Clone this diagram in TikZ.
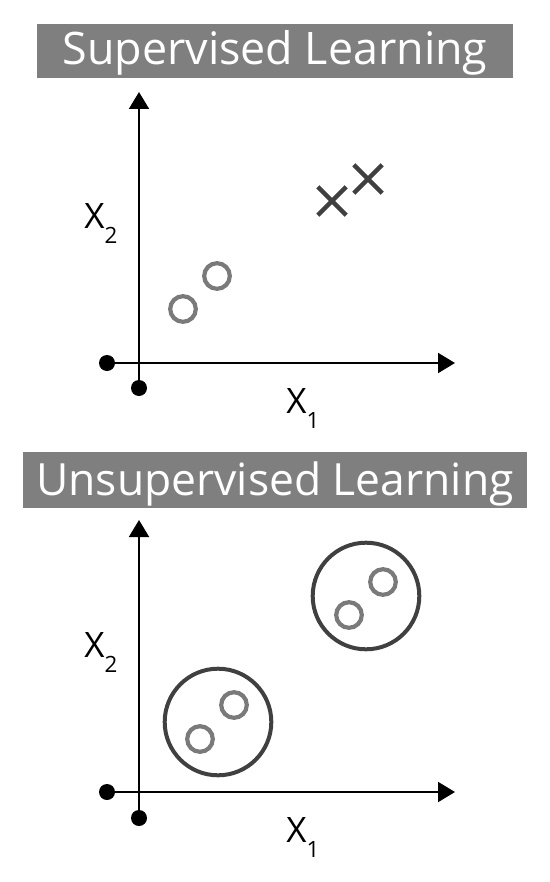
\documentclass[tikz,border=0pt]{standalone}
\usepackage{fontspec}
\setmainfont{Open Sans}
\usetikzlibrary{arrows.meta,shapes.misc,positioning}
\definecolor{bargray}{HTML}{7F7F7F}
\definecolor{ptgray}{HTML}{7A7A7A}
\definecolor{darkgray}{HTML}{404040}
\newcommand{\subfont}{\fontsize{11.2}{13}\selectfont}
\tikzstyle{title} = [rectangle, fill=bargray, text=white, inner sep=0pt, text depth=3pt]
\tikzstyle{axis} = [draw, line width=1pt, -{Triangle[length=8.5pt,width=10pt]}]
\tikzstyle{dot} = [circle, fill=black, inner sep=0pt, minimum size=8pt]
\tikzstyle{point} = [circle, draw=ptgray, line width=2.1pt, inner sep=0pt, minimum size=12.8pt]
\tikzstyle{cross} = [cross out, draw=darkgray, line width=2.2pt, inner sep=0pt, minimum size=12pt]
\tikzstyle{cluster} = [circle, draw=darkgray, line width=2pt, inner sep=0pt, minimum size=53.3pt]
\tikzstyle{axislabel} = [anchor=base west, inner sep=0pt, font=\fontsize{17.5}{20}\selectfont]

\begin{document}
\begin{tikzpicture}[x=0.5pt, y=-0.5pt]
						\useasboundingbox (0,0) rectangle (550,882);
						
						% Supervised
						\node [title, minimum width=238pt, minimum height=27pt, text height=17pt, font=\fontsize{22.4}{26}\selectfont] (suptitle) at (275,51) {Supervised Learning};
						\node [dot] (supx0) at (107,363) {};
						\node [dot] (supy0) at (139,388) {};
						\coordinate (supx) at (455,363);
						\coordinate (supy) at (139,92);
						\path [axis] (supx0) -- (supx);
						\path [axis] (supy0) -- (supy);
						\node [axislabel] (supxlab) at (286,413) {X\raisebox{-7.5pt}{\subfont 1}};
						\node [axislabel] (supylab) at (84,228) {X\raisebox{-7.5pt}{\subfont 2}};
						\node [point] (supa) at (183,309) {};
						\node [point] (supb) at (217,276) {};
						\node [cross] (supc) at (332,201) {};
						\node [cross] (supd) at (368,179) {};
						
						% Unsupervised
						\node [title, minimum width=252pt, minimum height=28pt, text height=18pt, font=\fontsize{22.2}{26}\selectfont] (unstitle) at (275,480) {Unsupervised Learning};
						\node [dot] (unsx0) at (107,792) {};
						\node [dot] (unsy0) at (139,818) {};
						\coordinate (unsx) at (455,792);
						\coordinate (unsy) at (139,520);
						\path [axis] (unsx0) -- (unsx);
						\path [axis] (unsy0) -- (unsy);
						\node [axislabel] (unsxlab) at (286,842) {X\raisebox{-7.5pt}{\subfont 1}};
						\node [axislabel] (unsylab) at (84,657) {X\raisebox{-7.5pt}{\subfont 2}};
						\node [cluster] (grpa) at (218,722) {};
						\node [cluster] (grpb) at (366,596) {};
						\node [point] (unsa) at (200,739) {};
						\node [point] (unsb) at (234,705) {};
						\node [point] (unsc) at (349,615) {};
						\node [point] (unsd) at (383,582) {};
						
					\end{tikzpicture}
\end{document}
